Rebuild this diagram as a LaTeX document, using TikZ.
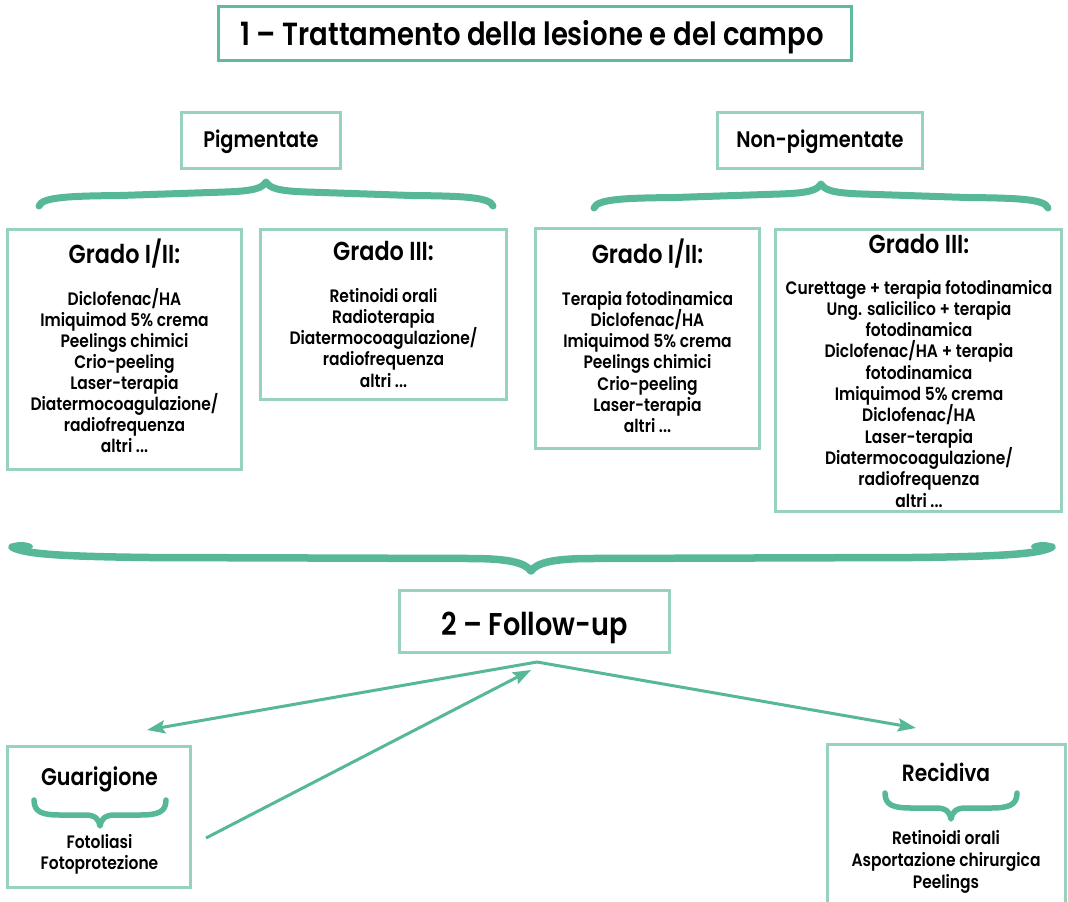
\documentclass[tikz,border=0pt]{standalone}
\usepackage{fontspec}
\setmainfont{Poppins}[UprightFont={* SemiBold}, BoldFont={* Bold}, FakeStretch=0.86]
\usetikzlibrary{arrows.meta}
\definecolor{bracec}{RGB}{86,183,153}
\definecolor{boxc}{RGB}{151,210,191}
\definecolor{titlec}{RGB}{96,186,156}
\newcommand\etcdots{...}
\begin{document}
\begin{tikzpicture}[x=1pt,y=-1pt,
  box/.style={draw=boxc, line width=3pt, rectangle, inner sep=0pt},
  headtxt/.style={font=\fontsize{26}{30}\selectfont, anchor=base, inner sep=0pt},
  itemtxt/.style={font=\fontsize{18}{21}\selectfont, anchor=base, inner sep=0pt},
  outtxt/.style={font=\fontsize{18}{22}\selectfont, anchor=base, inner sep=0pt},
  bracepath/.style={draw=bracec, line width=7pt, line cap=round, line join=round},
  smallbrace/.style={draw=bracec, line width=5.5pt, line cap=round, line join=round},
  flow/.style={draw=bracec, line width=3pt, -{Stealth[length=18pt,width=13pt,inset=3pt]}}]
\useasboundingbox (0,0) rectangle (1068,902);
\clip (0,0) rectangle (1068,902);

% ---- level 1 ----
\node[draw=titlec, line width=3pt, inner sep=0pt, minimum width=633pt, minimum height=54pt] (title) at (535,33.5) {};
\node[anchor=base, inner sep=0pt, font=\fontsize{32}{36}\selectfont] (titletxt) at (532,45) {1 – Trattamento della lesione e del campo};

\node[box, minimum width=159pt, minimum height=56pt] (pig) at (261,140.5) {};
\node[anchor=base, inner sep=0pt, font=\fontsize{22.5}{26}\selectfont] (pigtxt) at (261,147.5) {Pigmentate};
\node[box, minimum width=205pt, minimum height=56pt] (npig) at (820,140.5) {};
\node[anchor=base, inner sep=0pt, font=\fontsize{22.5}{26}\selectfont] (npigtxt) at (820,147.5) {Non-pigmentate};

% ---- braces under the two categories ----
\begin{scope}[shift={(266,182)}]
  \draw[bracepath] (-227,24) .. controls (-224,15) and (-196,14) .. (-146,13.5) -- (-41,10) .. controls (-11,9) and (-4,6) .. (0,0)
    .. controls (4,6) and (11,9) .. (41,10) -- (146,13.5) .. controls (196,14) and (224,15) .. (227,24);
\end{scope}
\begin{scope}[shift={(821,184)}]
  \draw[bracepath] (-227,24) .. controls (-224,15) and (-196,14) .. (-146,13.5) -- (-41,10) .. controls (-11,9) and (-4,6) .. (0,0)
    .. controls (4,6) and (11,9) .. (41,10) -- (146,13.5) .. controls (196,14) and (224,15) .. (227,24);
\end{scope}

% ---- pigmentate, grado I/II ----
\node[box, minimum width=234pt, minimum height=240pt] (pg12) at (124.5,349.5) {};
\node[headtxt] (pg12h) at (124.5,263.5) {Grado I/II:};
\foreach \t [count=\i from 0] in {Diclofenac/HA, Imiquimod 5\% crema, Peelings chimici, Crio-peeling, Laser-terapia, Diatermocoagulazione/, radiofrequenza, altri \etcdots}
  \node[itemtxt] (pg12-\i) at (124.5,305+21.14*\i) {\t};

% ---- pigmentate, grado III ----
\node[box, minimum width=246pt, minimum height=170pt] (pg3) at (383.5,314.5) {};
\node[headtxt] (pg3h) at (383.5,260.5) {Grado III:};
\foreach \t [count=\i from 0] in {Retinoidi orali, Radioterapia, Diatermocoagulazione/, radiofrequenza, altri \etcdots}
  \node[itemtxt] (pg3-\i) at (383.5,302+21.25*\i) {\t};

% ---- non-pigmentate, grado I/II ----
\node[box, minimum width=224pt, minimum height=220pt] (npg12) at (647.5,338.5) {};
\node[headtxt] (npg12h) at (647.5,263.5) {Grado I/II:};
\foreach \t [count=\i from 0] in {Terapia fotodinamica, Diclofenac/HA, Imiquimod 5\% crema, Peelings chimici, Crio-peeling, Laser-terapia, altri \etcdots}
  \node[itemtxt] (npg12-\i) at (647.5,305+21.33*\i) {\t};

% ---- non-pigmentate, grado III ----
\node[box, minimum width=286pt, minimum height=282pt] (npg3) at (918.5,370.5) {};
\node[headtxt] (npg3h) at (919,253.5) {Grado III:};
\foreach \t [count=\i from 0] in {Curettage + terapia fotodinamica, Ung. salicilico + terapia, fotodinamica, Diclofenac/HA + terapia, fotodinamica, Imiquimod 5\% crema, Diclofenac/HA, Laser-terapia, Diatermocoagulazione/, radiofrequenza, altri \etcdots}
  \node[itemtxt] (npg3-\i) at (919,294+21.3*\i) {\t};

% ---- large brace gathering level 1 ----
\draw[bracepath, line width=7.5pt] (12,547) .. controls (24,554) and (60,556.5) .. (150,557.5) -- (470,558.5)
  .. controls (510,558.5) and (525,563) .. (531,571)
  .. controls (537,563) and (552,558.5) .. (592,558.5) -- (912,557.5)
  .. controls (1002,556.5) and (1040,554) .. (1052,547);
\fill[bracec] (21,546.5) ellipse (12pt and 4.5pt);
\fill[bracec] (1043,546.5) ellipse (12pt and 4.5pt);

% ---- level 2 ----
\node[box, minimum width=270pt, minimum height=62pt] (follow) at (534.5,621.5) {};
\node[anchor=base, inner sep=0pt, font=\fontsize{31.5}{36}\selectfont] (followtxt) at (534.5,635) {2 – Follow-up};
\coordinate (fuout) at (537,662);
\coordinate (fuin) at (531,670);

% ---- outcomes ----
\node[box, minimum width=183pt, minimum height=141pt] (guar) at (99,817) {};
\node[headtxt, font=\fontsize{24}{28}\selectfont] (guarh) at (99.5,785.5) {Guarigione};
\draw[smallbrace] (34,800) .. controls (34,812) and (42,815) .. (60,815) -- (85,815) .. controls (95,815) and (99,819) .. (100,826)
  .. controls (101,819) and (105,815) .. (115,815) -- (140,815) .. controls (158,815) and (166,812) .. (166,800);
\node[outtxt] (guar-0) at (99.5,848.5) {Fotoliasi};
\node[outtxt] (guar-1) at (99.5,869) {Fotoprotezione};
\coordinate (guarin) at (147,730);
\coordinate (guarout) at (206,838);

\node[box, minimum width=238pt, minimum height=176pt] (recid) at (946,832) {};
\node[headtxt, font=\fontsize{23.5}{28}\selectfont] (recidh) at (946,781.5) {Recidiva};
\draw[smallbrace] (885,793) .. controls (885,805) and (893,808) .. (911,808) -- (936,808) .. controls (946,808) and (950,812) .. (951,819)
  .. controls (952,812) and (956,808) .. (966,808) -- (991,808) .. controls (1009,808) and (1017,805) .. (1017,793);
\node[outtxt] (recid-0) at (946,844.5) {Retinoidi orali};
\node[outtxt] (recid-1) at (946,866.5) {Asportazione chirurgica};
\node[outtxt] (recid-2) at (946,888) {Peelings};
\coordinate (recidin) at (916,728);

% ---- connectors ----
\draw[flow] (fuout) -- (guarin);
\draw[flow] (fuout) -- (recidin);
\draw[flow] (guarout) -- (fuin);
\end{tikzpicture}
\end{document}
